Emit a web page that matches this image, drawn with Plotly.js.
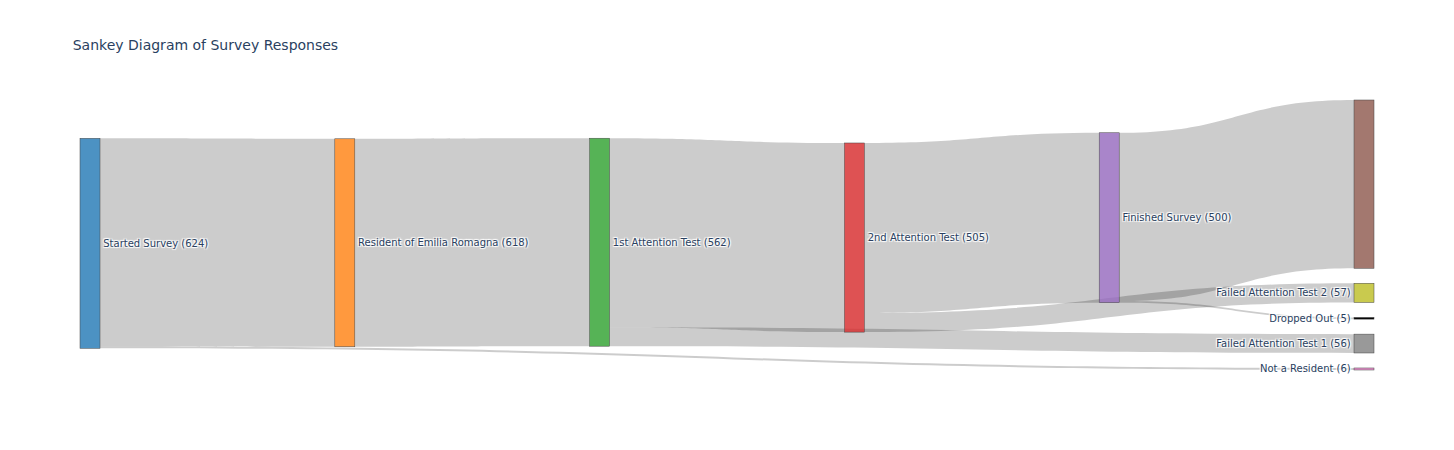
<!DOCTYPE html>
<html>
<head>
<meta charset="utf-8">
<script src="https://cdn.plot.ly/plotly-3.0.1.min.js"></script>
<style>html,body{margin:0;padding:0;background:#fff;}#chart{width:1454px;height:450px;}</style>
</head>
<body>
<div id="chart"></div>
<script>
const nodeLabels = [
  "Started Survey (624)",
  "Resident of Emilia Romagna (618)",
  "1st Attention Test (562)",
  "2nd Attention Test (505)",
  "Finished Survey (500)",
  "",
  "Not a Resident (6)",
  "Failed Attention Test 1 (56)",
  "Failed Attention Test 2 (57)",
  "Dropped Out (5)"
];
const nodeColors = [
  "rgba(31,119,180,0.8)",
  "rgba(255,127,14,0.8)",
  "rgba(44,160,44,0.8)",
  "rgba(214,39,40,0.8)",
  "rgba(148,103,189,0.8)",
  "rgba(140,86,75,0.8)",
  "rgba(227,119,194,0.8)",
  "rgba(127,127,127,0.8)",
  "rgba(188,189,34,0.8)",
  "black"
];
const linkSources = [0, 0, 1, 2, 2, 3, 3, 4, 4];
const linkTargets = [1, 6, 2, 3, 7, 4, 8, 5, 9];
const linkValues  = [618, 6, 618, 562, 56, 505, 57, 500, 5];

const data = [{
  type: "sankey",
  node: {
    label: nodeLabels,
    color: nodeColors,
    pad: 15,
    thickness: 20,
    line: {color: "#444", width: 0.5}
  },
  link: {
    source: linkSources,
    target: linkTargets,
    value: linkValues
  },
  textfont: {family: "DejaVu Sans, Verdana, sans-serif", size: 10, color: "#2a3f5f"}
}];

const layout = {
  title: {
    text: "Sankey Diagram of Survey Responses",
    x: 0.05,
    font: {family: "DejaVu Sans, Verdana, sans-serif", size: 14, color: "#2a3f5f"}
  },
  font: {family: "DejaVu Sans, Verdana, sans-serif", size: 10, color: "#2a3f5f"},
  width: 1454,
  height: 450,
  paper_bgcolor: "white",
  plot_bgcolor: "white"
};

Plotly.newPlot("chart", data, layout, {displayModeBar: false});
</script>
</body>
</html>
